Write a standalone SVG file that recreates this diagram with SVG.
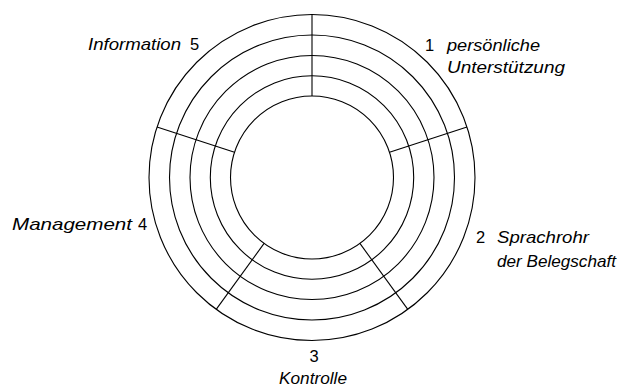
<svg xmlns="http://www.w3.org/2000/svg" width="629" height="388" viewBox="0 0 629 388">
<style>
.ring{fill:none;stroke:#000;stroke-width:1.1}
.spoke{stroke:#000;stroke-width:1.1}
.lbl{font-family:"Liberation Sans",Arial,sans-serif;font-size:16.5px;font-style:italic;fill:#000}
.num{font-family:"Liberation Sans",Arial,sans-serif;font-size:16.5px;fill:#000}
</style>
<rect width="629" height="388" fill="#fff"/>
<g id="rings">
<circle class="ring" cx="312" cy="177.5" r="163"/>
<circle class="ring" cx="312" cy="177.5" r="142.5"/>
<circle class="ring" cx="312" cy="177.5" r="122"/>
<circle class="ring" cx="312" cy="177.5" r="101.7"/>
<circle class="ring" cx="312" cy="177.5" r="81.5"/>
</g>
<g id="connectors">
<line class="spoke" x1="312" y1="96" x2="312" y2="14.5"/>
<line class="spoke" x1="389.5" y1="152.3" x2="467" y2="127.1"/>
<line class="spoke" x1="359.9" y1="243.4" x2="407.8" y2="309.4"/>
<line class="spoke" x1="264.1" y1="243.4" x2="216.2" y2="309.4"/>
<line class="spoke" x1="234.5" y1="152.3" x2="157" y2="127.1"/>
</g>
<g id="node1">
<text class="num" x="425" y="51">1</text>
<text class="lbl" x="447" y="51" textLength="93" lengthAdjust="spacingAndGlyphs">persönliche</text>
<text class="lbl" x="447" y="73" textLength="118" lengthAdjust="spacingAndGlyphs">Unterstützung</text>
</g>
<g id="node2">
<text class="num" x="476" y="243">2</text>
<text class="lbl" x="497" y="243" textLength="92" lengthAdjust="spacingAndGlyphs">Sprachrohr</text>
<text class="lbl" x="497" y="267" textLength="119" lengthAdjust="spacingAndGlyphs">der Belegschaft</text>
</g>
<g id="node3">
<text class="num" x="314" y="362" text-anchor="middle">3</text>
<text class="lbl" x="279" y="384" textLength="68" lengthAdjust="spacingAndGlyphs">Kontrolle</text>
</g>
<g id="node4">
<text class="lbl" x="12" y="230" textLength="120" lengthAdjust="spacingAndGlyphs">Management</text>
<text class="num" x="138" y="230">4</text>
</g>
<g id="node5">
<text class="lbl" x="88" y="50" textLength="93" lengthAdjust="spacingAndGlyphs">Information</text>
<text class="num" x="190" y="50">5</text>
</g>
</svg>
